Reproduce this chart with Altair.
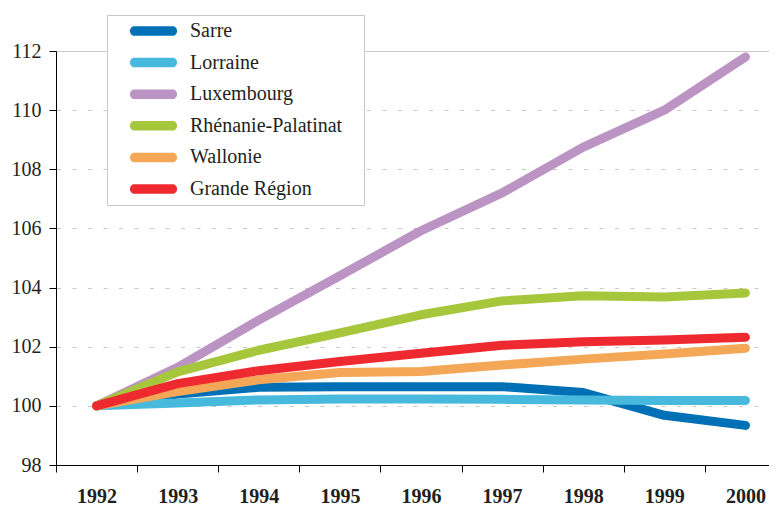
import altair as alt
import pandas as pd

years = ["1992", "1993", "1994", "1995", "1996", "1997", "1998", "1999", "2000"]
regions = ["Sarre", "Lorraine", "Luxembourg", "Rhénanie-Palatinat", "Wallonie", "Grande Région"]
colors = ["#0070b6", "#47b9dc", "#bc94c3", "#a6c63c", "#f4a857", "#ee2a30"]

sarre = [100.0, 100.40, 100.63, 100.65, 100.65, 100.65, 100.45, 99.68, 99.34]
lorraine = [100.0, 100.10, 100.20, 100.23, 100.23, 100.22, 100.20, 100.18, 100.18]
luxembourg = [100.0, 101.30, 102.90, 104.40, 105.92, 107.20, 108.75, 110.00, 111.80]
rhenanie = [100.0, 101.15, 101.88, 102.47, 103.08, 103.55, 103.72, 103.68, 103.82]
wallonie = [100.0, 100.48, 100.88, 101.13, 101.16, 101.38, 101.58, 101.75, 101.95]
grande = [100.0, 100.75, 101.19, 101.50, 101.78, 102.05, 102.17, 102.23, 102.32]

y_ticks = [98, 100, 102, 104, 106, 108, 110, 112]

series = [sarre, lorraine, luxembourg, rhenanie, wallonie, grande]
rows = []
for r, vals in zip(regions, series):
    for yr, v in zip(years, vals):
        rows.append({"year": yr, "region": r, "value": v})
df = pd.DataFrame(rows)

FONT = "Times New Roman, Liberation Serif, DejaVu Serif, serif"
TXT = "#231f20"

# legend symbol: a rounded bar built from thin horizontal strokes (unit = 5 px)
half_lengths = [(0.0, 4.7), (0.2, 4.678), (0.4, 4.606), (0.6, 4.47), (0.8, 4.212)]
sym_parts = []
for dy, hl in half_lengths:
    for s in ([1] if dy == 0 else [-1, 1]):
        sym_parts.append(f"M{-hl},{s * dy}H{hl}")
sym_parts.append("M40.3,0")  # bounds anchor so the legend box reaches its reference width
SYMBOL = "".join(sym_parts)

x = alt.X(
    "year:O",
    sort=years,
    scale=alt.Scale(type="band", paddingInner=0, paddingOuter=0, range=[0, 730]),
    bandPosition=0.5,
    axis=alt.Axis(
        title=None, labelAngle=0, tickBand="extent", grid=False,
        labelFont=FONT, labelFontSize=20, labelFontWeight="bold", labelColor=TXT,
        tickColor="black", domainColor="black", tickSize=7, labelPadding=14,
    ),
)
y = alt.Y(
    "value:Q",
    scale=alt.Scale(domain=[98, 112], nice=False, zero=False),
    axis=alt.Axis(
        title=None, values=y_ticks, grid=True, gridColor="#c8c8c8", gridWidth=1,
        gridDash={"condition": {"test": "datum.value === 112", "value": []}, "value": [4, 11.5]},
        gridDashOffset=15,
        labelFont=FONT, labelFontSize=20, labelColor=TXT, labelPadding=8,
        tickColor="black", domainColor="black", tickSize=7,
    ),
)
color = alt.Color(
    "region:N",
    scale=alt.Scale(domain=regions, range=colors),
    legend=alt.Legend(
        orient="none", legendX=51, legendY=-36, title=None,
        padding=6, fillColor="white", strokeColor="#c8c8c8",
        labelFont=FONT, labelFontSize=20, labelColor=TXT, labelLimit=400,
        symbolType=SYMBOL, symbolSize=100, symbolStrokeWidth=1.5,
        symbolOffset=30.5, labelOffset=26.5, rowPadding=11.6,
    ),
)

base = alt.Chart(df).mark_line(strokeWidth=9, strokeCap="round", strokeJoin="round").encode(
    x=x, y=y, color=color
)
layers = [base.transform_filter(alt.datum.region == r) for r in regions]

chart = (
    alt.layer(*layers)
    .properties(
        width=713, height=414,
        padding={"left": 48, "top": 43, "right": 0, "bottom": 40},
        autosize=alt.AutoSizeParams(type="none"),
        background="white",
    )
    .configure_view(stroke=None)
)

chart.save("out.html", embed_options={"renderer": "svg", "actions": False})
